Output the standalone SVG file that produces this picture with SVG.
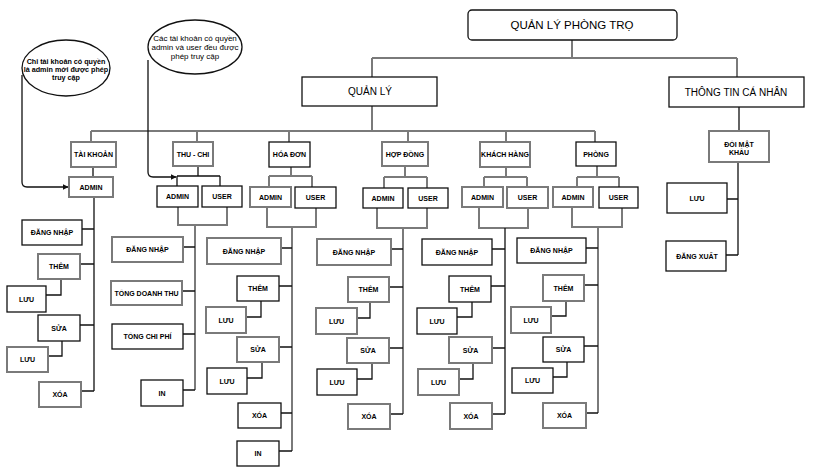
<svg xmlns="http://www.w3.org/2000/svg" width="815" height="476" viewBox="0 0 815 476">
<defs>
<style>
.k{fill:#fff;stroke:#111;stroke-width:1.3}
.g{fill:#fff;stroke:#7a7a7a;stroke-width:2}
.t{font-family:"Liberation Sans",Arial,sans-serif;font-size:7px;font-weight:bold;text-anchor:middle;fill:#000}
.b{font-family:"Liberation Sans",Arial,sans-serif;font-size:10px;text-anchor:middle;fill:#000}
.ck{fill:none;stroke:#111;stroke-width:1.3}
.cg{fill:none;stroke:#7a7a7a;stroke-width:2}
</style>
<marker id="ar" viewBox="0 0 10 10" refX="9" refY="5" markerWidth="6" markerHeight="6" orient="auto" markerUnits="userSpaceOnUse"><path d="M0,0 L10,5 L0,10 z" fill="#111"/></marker>
</defs>
<rect width="815" height="476" fill="#fff"/>
<g id="connectors">
<path class="cg" d="M572,40 V58 M372,58 H737 M372,58 V77 M737,58 V77"/>
<path class="cg" d="M372,106 V131 M91,131 H595 M91,131 V142 M197,131 V142 M289,131 V142 M408,131 V142 M506,131 V142 M595,131 V142"/>
<path class="ck" d="M93,167 V177 M94,197 V391 M82,229 H94 M80,264 H94 M61,279 V295 H46 M80,325 H94 M62,341 V356 H48 M81,391 H94"/>
<path class="ck" d="M198,166 V176 M177,176 H220 M177,176 V186 M220,176 V186"/>
<path class="cg" d="M178,207 V225 H227 V207 M195,225 V390"/>
<path class="ck" d="M183,247 H195 M182,291 H195 M183,334 H195 M183,390 H195"/>
<path class="cg" d="M291,167 V176 M269,176 H312 M269,176 V187 M312,176 V187 M267,207 V227 H316 V208 M292,227 V451"/>
<path class="ck" d="M281,248 H292 M279,286 H292 M261,301 V317 H246 M279,347 H292 M262,362 V378 H247 M281,413 H292 M279,451 H292"/>
<path class="cg" d="M405,166 V177 M384,177 H427 M384,177 V188 M427,177 V188 M377,208 V228 H427 V208 M403,228 V414"/>
<path class="ck" d="M391,249 H403 M389,287 H403 M370,302 V318 H357 M389,348 H403 M372,363 V379 H357 M390,414 H403"/>
<path class="cg" d="M506,167 V177 M484,177 H527 M484,177 V187 M527,177 V187 M479,207 V228 H528 V208"/>
<path class="ck" d="M505,228 V414 M492,249 H505 M491,286 H505 M472,302 V317 H457 M492,348 H505 M473,363 V379 H459 M492,414 H505"/>
<path class="cg" d="M597,166 V177 M577,177 H619 M577,177 V187 M619,177 V187 M572,207 V227 H622 V208 M598,227 V413"/>
<path class="ck" d="M586,248 H598 M584,285 H598 M566,301 V316 H551 M584,346 H598 M567,362 V377 H553 M586,413 H598"/>
<path class="ck" d="M739,107 V131 M738,162 V255 M727,199 H738 M726,255 H738"/>
<path class="ck" d="M22,75 V182 Q22,187 27,187 H68" marker-end="url(#ar)"/>
<path class="ck" d="M148,60 V172 Q148,177 153,177 H176" marker-end="url(#ar)"/>
</g>
<g id="note1"><ellipse cx="66" cy="68" rx="44" ry="28" class="k"/>
<text class="t" style="font-size:7.2px"><tspan x="66" y="63.5">Chỉ tài khoản có quyền</tspan><tspan x="66" y="72">là admin mới được phép</tspan><tspan x="66" y="80">truy cập</tspan></text></g>
<g id="note2"><ellipse cx="195" cy="47" rx="47" ry="27" class="k"/>
<text class="b" style="font-size:8px"><tspan x="195" y="41">Các tài khoản có quyền</tspan><tspan x="195" y="50">admin và user đều được</tspan><tspan x="195" y="59">phép truy cập</tspan></text></g>
<g id="root"><rect x="468" y="10" width="209" height="30" rx="4" class="k"/><text class="b" x="572" y="29" style="font-size:11.5px">QUẢN LÝ PHÒNG TRỌ</text></g>
<g id="quanly"><rect x="302" y="77" width="135" height="29" class="k"/><text class="b" x="370" y="95">QUẢN LÝ</text></g>
<g id="thongtin"><rect x="669" y="77" width="135" height="30" class="k"/><text class="b" x="736" y="96">THÔNG TIN CÁ NHÂN</text></g>

<g id="taikhoan"><rect x="71" y="142" width="45" height="25" class="g"/><text class="t" x="93.5" y="157">TÀI KHOẢN</text></g>
<g id="tk-admin"><rect x="69" y="177" width="44" height="20" class="g"/><text class="t" x="91" y="189.5">ADMIN</text></g>
<g id="tk-dangnhap"><rect x="22" y="220" width="60" height="25" class="k"/><text class="t" x="52" y="235">ĐĂNG NHẬP</text></g>
<g id="tk-them"><rect x="38" y="254" width="42" height="25" class="g"/><text class="t" x="59" y="269">THÊM</text></g>
<g id="tk-luu1"><rect x="7" y="286" width="39" height="26" class="k"/><text class="t" x="26.5" y="301.5">LƯU</text></g>
<g id="tk-sua"><rect x="38" y="315" width="42" height="26" class="k"/><text class="t" x="59" y="330.5">SỬA</text></g>
<g id="tk-luu2"><rect x="7" y="347" width="41" height="25" class="g"/><text class="t" x="27.5" y="362">LƯU</text></g>
<g id="tk-xoa"><rect x="39" y="382" width="42" height="25" class="g"/><text class="t" x="60" y="397">XÓA</text></g>

<g id="thuchi"><rect x="173" y="142" width="40" height="24" class="g"/><text class="t" x="193" y="156.5">THU - CHI</text></g>
<g id="tc-admin"><rect x="157" y="186" width="41" height="21" class="k"/><text class="t" x="177.5" y="199">ADMIN</text></g>
<g id="tc-user"><rect x="202" y="186" width="40" height="21" class="k"/><text class="t" x="222" y="199">USER</text></g>
<g id="tc-dangnhap"><rect x="112" y="237" width="71" height="25" class="g"/><text class="t" x="147.5" y="252">ĐĂNG NHẬP</text></g>
<g id="tc-tongdoanhthu"><rect x="111" y="281" width="71" height="24" class="g"/><text class="t" x="146.5" y="295.5">TỔNG DOANH THU</text></g>
<g id="tc-tongchiphi"><rect x="112" y="324" width="71" height="25" class="k"/><text class="t" x="147.5" y="339">TỔNG CHI PHÍ</text></g>
<g id="tc-in"><rect x="141" y="380" width="42" height="26" class="k"/><text class="t" x="162" y="395.5">IN</text></g>

<g id="hoadon"><rect x="269" y="142" width="41" height="25" class="k"/><text class="t" x="289.5" y="157">HÓA ĐƠN</text></g>
<g id="hd-admin"><rect x="250" y="187" width="41" height="20" class="g"/><text class="t" x="270.5" y="199.5">ADMIN</text></g>
<g id="hd-user"><rect x="295" y="187" width="41" height="21" class="k"/><text class="t" x="315.5" y="200">USER</text></g>
<g id="hd-dangnhap"><rect x="207" y="238" width="74" height="26" class="g"/><text class="t" x="244" y="253.5">ĐĂNG NHẬP</text></g>
<g id="hd-them"><rect x="237" y="276" width="42" height="25" class="k"/><text class="t" x="258" y="291">THÊM</text></g>
<g id="hd-luu1"><rect x="206" y="307" width="40" height="26" class="g"/><text class="t" x="226" y="322.5">LƯU</text></g>
<g id="hd-sua"><rect x="237" y="337" width="42" height="25" class="g"/><text class="t" x="258" y="352">SỬA</text></g>
<g id="hd-luu2"><rect x="207" y="368" width="40" height="26" class="k"/><text class="t" x="227" y="383.5">LƯU</text></g>
<g id="hd-xoa"><rect x="238" y="403" width="43" height="25" class="k"/><text class="t" x="259.5" y="418">XÓA</text></g>
<g id="hd-in"><rect x="237" y="441" width="42" height="25" class="k"/><text class="t" x="258" y="456">IN</text></g>

<g id="hopdong"><rect x="382" y="142" width="46" height="24" class="g"/><text class="t" x="405" y="156.5">HỢP ĐỒNG</text></g>
<g id="hdg-admin"><rect x="363" y="188" width="40" height="20" class="k"/><text class="t" x="383" y="200.5">ADMIN</text></g>
<g id="hdg-user"><rect x="408" y="188" width="40" height="20" class="k"/><text class="t" x="428" y="200.5">USER</text></g>
<g id="hdg-dangnhap"><rect x="317" y="239" width="74" height="26" class="g"/><text class="t" x="354" y="254.5">ĐĂNG NHẬP</text></g>
<g id="hdg-them"><rect x="348" y="277" width="41" height="25" class="g"/><text class="t" x="368.5" y="292">THÊM</text></g>
<g id="hdg-luu1"><rect x="316" y="308" width="41" height="26" class="g"/><text class="t" x="336.5" y="323.5">LƯU</text></g>
<g id="hdg-sua"><rect x="347" y="338" width="42" height="25" class="g"/><text class="t" x="368" y="353">SỬA</text></g>
<g id="hdg-luu2"><rect x="317" y="369" width="40" height="26" class="k"/><text class="t" x="337" y="384.5">LƯU</text></g>
<g id="hdg-xoa"><rect x="348" y="404" width="42" height="25" class="g"/><text class="t" x="369" y="419">XÓA</text></g>

<g id="khachhang"><rect x="480" y="142" width="50" height="25" class="g"/><text class="t" x="505" y="157">KHÁCH HÀNG</text></g>
<g id="kh-admin"><rect x="462" y="187" width="41" height="20" class="g"/><text class="t" x="482.5" y="199.5">ADMIN</text></g>
<g id="kh-user"><rect x="507" y="187" width="41" height="21" class="g"/><text class="t" x="527.5" y="200">USER</text></g>
<g id="kh-dangnhap"><rect x="422" y="239" width="70" height="26" class="k"/><text class="t" x="457" y="254.5">ĐĂNG NHẬP</text></g>
<g id="kh-them"><rect x="449" y="276" width="42" height="26" class="k"/><text class="t" x="470" y="291.5">THÊM</text></g>
<g id="kh-luu1"><rect x="417" y="308" width="40" height="26" class="k"/><text class="t" x="437" y="323.5">LƯU</text></g>
<g id="kh-sua"><rect x="449" y="337" width="43" height="26" class="g"/><text class="t" x="470.5" y="352.5">SỬA</text></g>
<g id="kh-luu2"><rect x="418" y="369" width="41" height="26" class="g"/><text class="t" x="438.5" y="384.5">LƯU</text></g>
<g id="kh-xoa"><rect x="450" y="403" width="42" height="26" class="g"/><text class="t" x="471" y="418.5">XÓA</text></g>

<g id="phong"><rect x="576" y="142" width="40" height="24" class="k"/><text class="t" x="596" y="156.5">PHÒNG</text></g>
<g id="p-admin"><rect x="553" y="187" width="40" height="20" class="g"/><text class="t" x="573" y="199.5">ADMIN</text></g>
<g id="p-user"><rect x="599" y="187" width="39" height="21" class="k"/><text class="t" x="618.5" y="200">USER</text></g>
<g id="p-dangnhap"><rect x="517" y="238" width="69" height="25" class="k"/><text class="t" x="551.5" y="253">ĐĂNG NHẬP</text></g>
<g id="p-them"><rect x="543" y="275" width="41" height="26" class="g"/><text class="t" x="563.5" y="290.5">THÊM</text></g>
<g id="p-luu1"><rect x="511" y="307" width="40" height="26" class="g"/><text class="t" x="531" y="322.5">LƯU</text></g>
<g id="p-sua"><rect x="543" y="337" width="41" height="25" class="k"/><text class="t" x="563.5" y="352">SỬA</text></g>
<g id="p-luu2"><rect x="512" y="368" width="41" height="25" class="k"/><text class="t" x="532.5" y="383">LƯU</text></g>
<g id="p-xoa"><rect x="543" y="403" width="43" height="25" class="g"/><text class="t" x="564.5" y="418">XÓA</text></g>

<g id="doimatkhau"><rect x="709" y="131" width="60" height="31" class="g"/><text class="t"><tspan x="739" y="146.5">ĐỔI MẬT</tspan><tspan x="739" y="154.5">KHẨU</tspan></text></g>
<g id="tt-luu"><rect x="667" y="183" width="60" height="30" class="k"/><text class="t" x="697" y="200.5">LƯU</text></g>
<g id="tt-dangxuat"><rect x="666" y="241" width="60" height="30" class="k"/><text class="t" x="697" y="258.5">ĐĂNG XUẤT</text></g>
</svg>
